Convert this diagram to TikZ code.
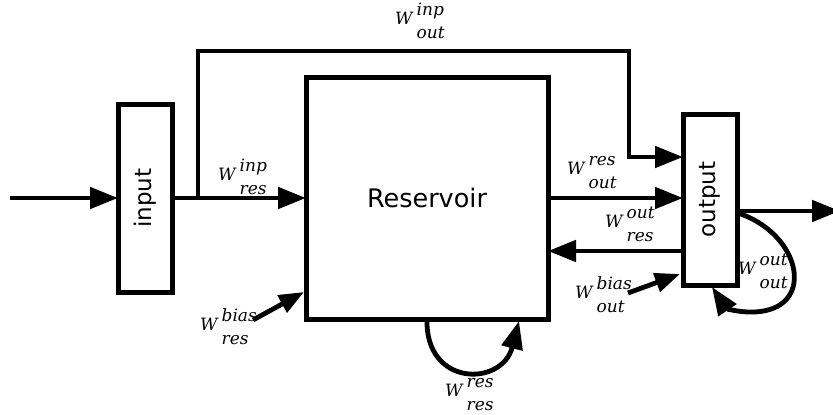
\documentclass[tikz,border=0pt]{standalone}
\usepackage{fontspec}
\usetikzlibrary{arrows.meta}
\newfontfamily\boxfont{DejaVu Sans}
\newfontfamily\labfont{DejaVu Serif}
\newcommand{\wl}[2]{W\hspace{4pt}\rlap{\raisebox{8.5pt}{#1}}\raisebox{-14pt}{#2}}
\tikzset{
  blk/.style={draw, line width=5pt, rectangle, inner sep=0pt, outer sep=0pt, fill=white},
  conn/.style={line width=4.8pt},
  arr/.style={conn, -{Triangle[length=28pt,width=21pt]}},
  sarr/.style={conn, -{Triangle[length=25pt,width=19pt]}},
  wlab/.style={anchor=base west, inner sep=0pt, font=\labfont\itshape\fontsize{17}{19}\selectfont},
}
\begin{document}
\begin{tikzpicture}[x=1pt,y=-1pt]
\useasboundingbox (0,0) rectangle (833,415);
% blocks
\node[blk, minimum width=54pt, minimum height=188pt] (inp) at (145,198) {};
\node[rotate=90, font=\boxfont\fontsize{23}{25}\selectfont] (inpt) at (inp.center) {input};
\node[blk, minimum width=242pt, minimum height=242pt] (res) at (427,198) {};
\node[font=\boxfont\fontsize{25.5}{28}\selectfont] (rest) at (res.center) {Reservoir};
\node[blk, minimum width=54pt, minimum height=171pt] (out) at (710,199.5) {};
\node[rotate=90, font=\boxfont\fontsize{23}{25}\selectfont] (outt) at (out.center) {output};
% helper coordinates
\coordinate (in0) at (10,198);
\coordinate (br) at (198,198);
\coordinate (t1) at (198,51);
\coordinate (t2) at (629,51);
\coordinate (t3) at (629,157);
\coordinate (y251) at (0,251);
\coordinate (y211) at (0,211);
\coordinate (oend) at (840,211);
\coordinate (rb1) at (253,320);
\coordinate (rb2) at (304,292);
\coordinate (ob1) at (628,293);
\coordinate (ob2) at (680,274);
\coordinate (rl1) at (427,319);
\coordinate (rl2) at (519,321);
\coordinate (ol1) at (738,213);
\coordinate (ol2) at (712,287);
% connectors
\draw[arr] (in0) -- (inp.west);
\draw[arr] (inp.east) -- (res.west);
\draw[arr] (br) -- (t1) -- (t2) -- (t3) -- (out.west |- t3);
\draw[arr] (res.east) -- (res.east -| out.west);
\draw[arr] (out.west |- y251) -- (res.east |- y251);
\draw[arr] (out.east |- y211) -- (oend);
\draw[sarr] (rb1) -- (rb2);
\draw[sarr] (ob1) -- (ob2);
\draw[arr] (rl1) .. controls (425,387) and (502,387) .. (rl2);
\draw[arr] (ol1) .. controls (795,232) and (812,292) .. (774,308) .. controls (752,317) and (726,308) .. (ol2);
% labels
\node[wlab] (l1) at (395,24) {\wl{inp}{out}};
\node[wlab] (l2) at (218,180) {\wl{inp}{res}};
\node[wlab] (l3) at (567,174) {\wl{res}{out}};
\node[wlab] (l4) at (605,227) {\wl{out}{res}};
\node[wlab] (l5) at (575,298) {\wl{bias}{out}};
\node[wlab] (l6) at (738,274) {\wl{out}{out}};
\node[wlab] (l7) at (200,330) {\wl{bias}{res}};
\node[wlab] (l8) at (445,396) {\wl{res}{res}};
\end{tikzpicture}
\end{document}
